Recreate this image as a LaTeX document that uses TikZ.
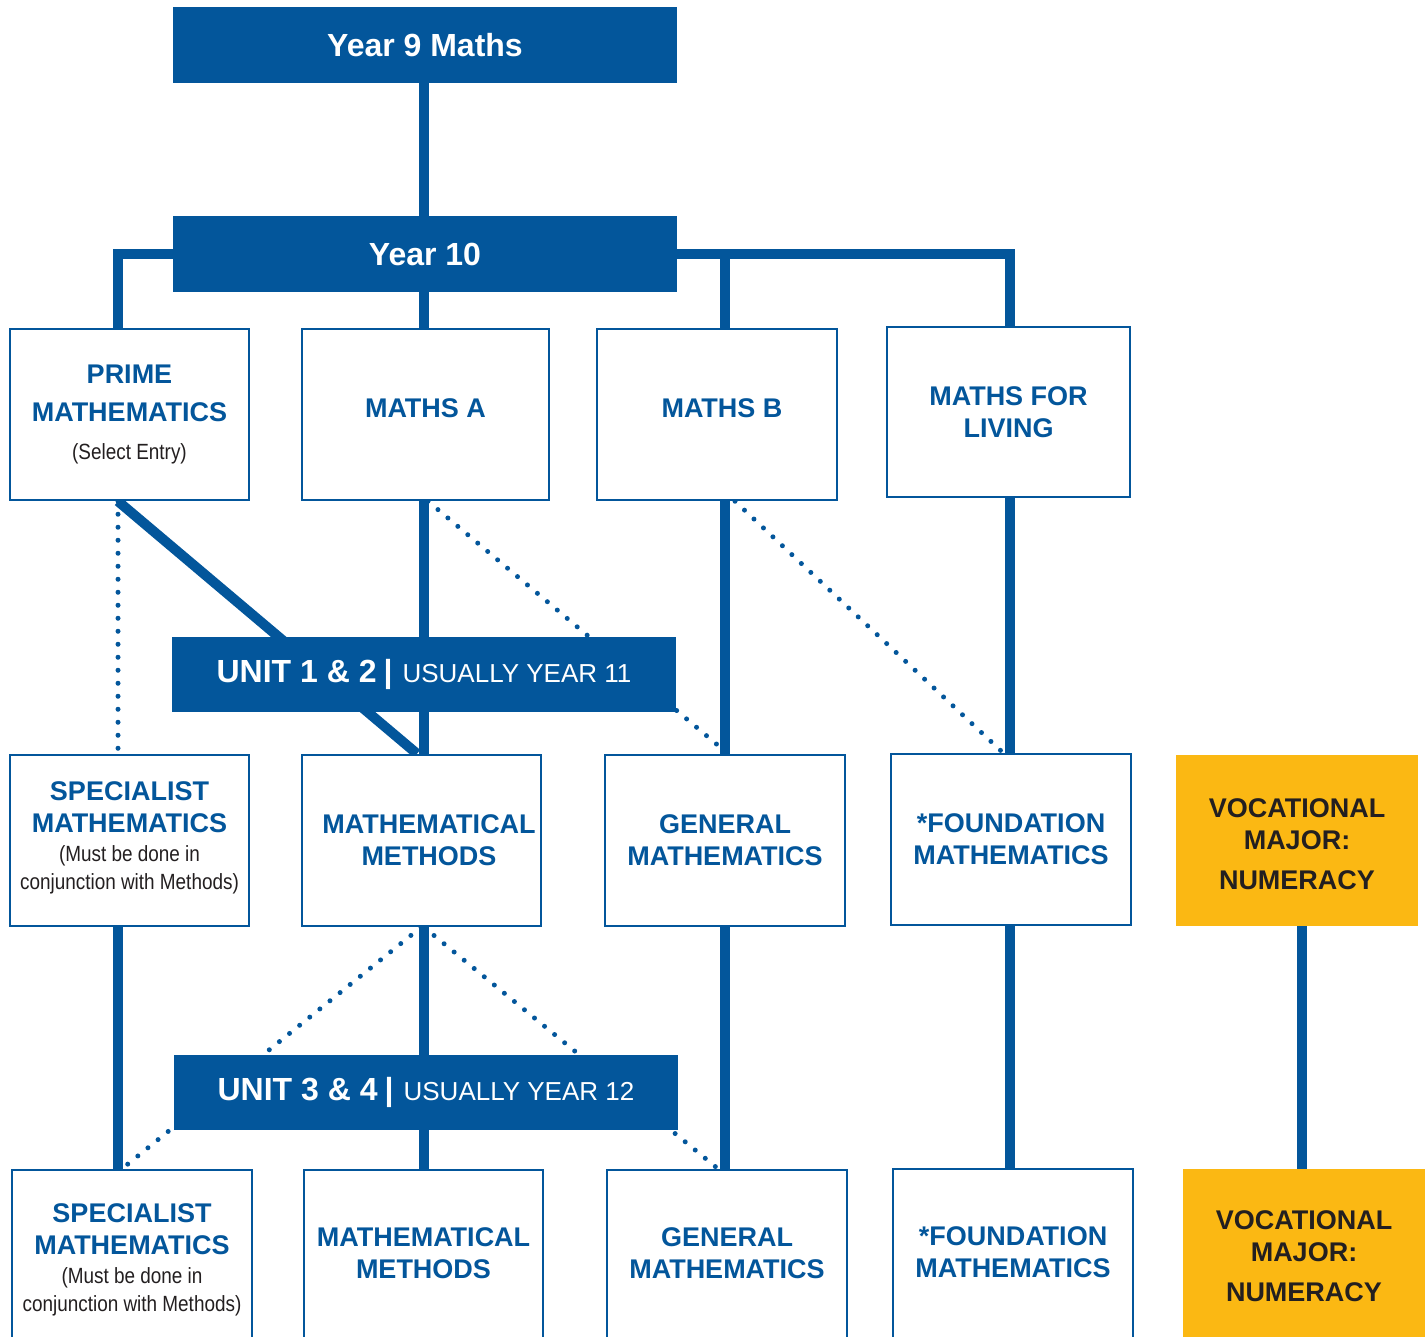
\documentclass[tikz,border=0pt]{standalone}
\usepackage{fontspec}
\setmainfont{Liberation Sans}
\newfontfamily\notefamily[FakeStretch=0.86]{Liberation Sans}
\definecolor{myblue}{HTML}{03569B}
\definecolor{myyellow}{HTML}{FBB813}
\definecolor{mydark}{HTML}{231F20}
\newcommand\cnote[1]{{\notefamily\mdseries\color{mydark}\fontsize{22}{28}\selectfont #1}}
\newcommand\shiftby[2]{\raisebox{#1}[\height][\depth]{\begin{tabular}{@{}c@{}}#2\end{tabular}}}
\newcommand\unitlabel[2]{{\bfseries\fontsize{32}{38}\selectfont #1\hspace{7pt}|}\hspace{10pt}{\fontsize{26}{32}\selectfont #2}}
\pgfdeclarelayer{background}
\pgfsetlayers{background,main}
\begin{document}
\begin{tikzpicture}[x=1pt,y=-1pt,
  hdr/.style={fill=myblue, text=white, minimum width=504pt, minimum height=76pt, inner sep=0pt, font=\bfseries\fontsize{32}{38}\selectfont},
  unitbar/.style={fill=myblue, text=white, minimum width=504pt, minimum height=75pt, inner sep=0pt},
  course/.style={draw=myblue, line width=2.5pt, fill=white, text=myblue, inner sep=0pt, align=center, minimum height=171pt, font=\bfseries\fontsize{27}{32}\selectfont},
  lastrow/.style={course, minimum height=180pt},
  voc/.style={fill=myyellow, text=mydark, inner sep=0pt, align=center, minimum width=242pt, minimum height=171pt, font=\bfseries\fontsize{27}{32}\selectfont},
  link/.style={draw=myblue, line width=10pt},
  dotlink/.style={draw=myblue, line width=5pt, line cap=round, dash pattern=on 0pt off 13pt}]
\useasboundingbox (0,0) rectangle (1428,1337);
% column coordinates
\coordinate (c1) at (118,0);
\coordinate (c2) at (424,0);
\coordinate (c3) at (725,0);
\coordinate (c4) at (1010,0);
\coordinate (c5) at (1302,0);
\coordinate (d1) at (417,0);
\coordinate (d2) at (428,0);
\coordinate (d3) at (728,0);
\coordinate (d4) at (735,0);
\coordinate (d5) at (1003,0);
\coordinate (d6) at (421,0);
\coordinate (d7) at (122,0);
\coordinate (d8) at (718,0);
% boxes
\node[hdr] (y9) at (425,45) {Year 9 Maths};
\node[hdr] (y10) at (425,254) {Year 10};
\node[course, minimum width=239pt] (prime) at (129.5,414.5) {PRIME\\[6pt]MATHEMATICS\\[6pt]\cnote{(Select Entry)}};
\node[course, minimum width=247pt] (mathsa) at (425.5,414.5) {\shiftby{3pt}{MATHS A}};
\node[course, minimum width=240pt] (mathsb) at (717,414.5) {\hspace{10pt}\shiftby{3pt}{MATHS B}};
\node[course, minimum width=243pt, minimum height=170pt] (living) at (1008.5,412) {MATHS FOR\\LIVING};
\node[unitbar] (u12) at (424,674.5) {\unitlabel{UNIT 1 \& 2}{USUALLY YEAR 11}};
\node[course, minimum width=239pt] (spec2) at (129.5,840.5) {\shiftby{2pt}{SPECIALIST\\MATHEMATICS\\[-3pt]\cnote{(Must be done in}\\[-4pt]\cnote{conjunction with Methods)}}};
\node[course, minimum width=239pt] (meth2) at (421.5,840.5) {\hspace{15pt}\shiftby{-3pt}{MATHEMATICAL\\METHODS}};
\node[course, minimum width=240pt] (gen2) at (725,840.5) {GENERAL\\MATHEMATICS};
\node[course, minimum width=240pt] (found2) at (1011,839.5) {*FOUNDATION\\MATHEMATICS};
\node[voc] (voc2) at (1297,840.5) {\shiftby{-7pt}{VOCATIONAL\\MAJOR:\\[8pt]NUMERACY}};
\node[unitbar] (u34) at (426,1092.5) {\unitlabel{UNIT 3 \& 4}{USUALLY YEAR 12}};
\node[lastrow, minimum width=240pt] (spec3) at (132,1260) {SPECIALIST\\MATHEMATICS\\[-3pt]\cnote{(Must be done in}\\[-4pt]\cnote{conjunction with Methods)}};
\node[lastrow, minimum width=239pt] (meth3) at (423.5,1260) {\shiftby{4pt}{MATHEMATICAL\\METHODS}};
\node[lastrow, minimum width=240pt] (gen3) at (727,1260) {\shiftby{4pt}{GENERAL\\MATHEMATICS}};
\node[lastrow, minimum width=240pt] (found3) at (1013,1259) {\shiftby{4pt}{*FOUNDATION\\MATHEMATICS}};
\node[voc, minimum height=180pt] (voc3) at (1304,1259) {\shiftby{0pt}{VOCATIONAL\\MAJOR:\\[8pt]NUMERACY}};
% connectors behind the boxes
\begin{pgfonlayer}{background}
\draw[link] (y9.south -| c2) -- (y10.north -| c2);
\draw[link] (y10) -| (prime.north -| c1);
\draw[link] (y10) -| (mathsb.north -| c3);
\draw[link] (y10) -| (living.north -| c4);
\draw[link] (y10.south -| c2) -- (mathsa.north -| c2);
\draw[link] (prime.south -| c1) -- (meth2.north -| d1);
\draw[dotlink] (prime.south -| c1) -- (spec2.north -| c1);
\draw[link] (mathsa.south -| c2) -- (meth2.north -| c2);
\draw[dotlink] (mathsa.south -| d2) -- (gen2.north -| d3);
\draw[link] (mathsb.south -| c3) -- (gen2.north -| c3);
\draw[dotlink] (mathsb.south -| d4) -- (found2.north -| d5);
\draw[link] (living.south -| c4) -- (found2.north -| c4);
\draw[link] (spec2.south -| c1) -- (spec3.north -| c1);
\draw[link] (meth2.south -| c2) -- (meth3.north -| c2);
\draw[dotlink] (meth2.south -| d6) -- (spec3.north -| d7);
\draw[dotlink] (meth2.south -| c2) -- (gen3.north -| d8);
\draw[link] (gen2.south -| c3) -- (gen3.north -| c3);
\draw[link] (found2.south -| c4) -- (found3.north -| c4);
\draw[link] (voc2.south -| c5) -- (voc3.north -| c5);
\end{pgfonlayer}
\end{tikzpicture}
\end{document}
